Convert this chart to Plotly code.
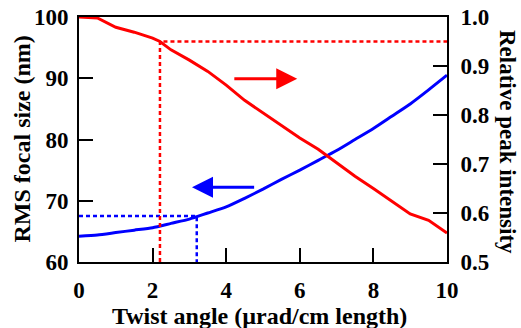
import plotly.graph_objects as go

# Twist angle (µrad/cm length)
twist_red = [0, 0.5, 1, 1.5, 2, 2.2, 2.5, 3, 3.5, 4, 4.5, 5, 5.5, 6, 6.5, 7, 7.5, 8, 8.5, 9, 9.5, 10]
peak_intensity = [1.0, 0.998, 0.979, 0.969, 0.957, 0.950, 0.933, 0.912, 0.889, 0.861, 0.830,
                  0.804, 0.779, 0.753, 0.730, 0.703, 0.675, 0.650, 0.624, 0.598, 0.585, 0.559]

twist_blue = [0, 0.5, 1, 1.5, 2, 2.5, 3, 3.5, 4, 4.5, 5, 5.5, 6, 6.5, 7, 7.5, 8, 8.5, 9, 9.5, 10]
rms_focal = [64.2, 64.4, 64.8, 65.2, 65.6, 66.3, 67.0, 68.0, 69.0, 70.4, 71.9,
             73.5, 75.0, 76.6, 78.2, 80.0, 81.8, 83.8, 85.8, 88.1, 90.5]

# reference (dotted) guide lines
red_guide_x = [2.2, 2.2, 10]
red_guide_y = [0.5, 0.95, 0.95]
blue_guide_x = [0, 3.2, 3.2]
blue_guide_y = [67.5, 67.5, 60]

x_title = "Twist angle (µrad/cm length)"
y_title = "RMS focal size (nm)"
y2_title = "Relative peak intensity"

RED = "#ff0000"
BLUE = "#0000ff"
FONT = "Liberation Serif"

fig = go.Figure()
fig.add_trace(go.Scatter(x=blue_guide_x, y=blue_guide_y, mode="lines",
                         line=dict(color=BLUE, width=2.5, dash="4px,3px"),
                         showlegend=False, hoverinfo="skip"))
fig.add_trace(go.Scatter(x=red_guide_x, y=red_guide_y, mode="lines", yaxis="y2",
                         line=dict(color=RED, width=2.5, dash="4px,3px"),
                         showlegend=False, hoverinfo="skip"))
fig.add_trace(go.Scatter(x=twist_blue, y=rms_focal, mode="lines",
                         line=dict(color=BLUE, width=3, shape="spline", smoothing=0.6),
                         showlegend=False))
fig.add_trace(go.Scatter(x=twist_red, y=peak_intensity, mode="lines", yaxis="y2",
                         line=dict(color=RED, width=3),
                         showlegend=False))

# direction arrows
fig.add_annotation(x=5.93, y=89.9, ax=4.18, ay=89.9, xref="x", yref="y", axref="x", ayref="y",
                   text="", showarrow=True, arrowhead=2, arrowsize=1.4, arrowwidth=3, arrowcolor=RED)
fig.add_annotation(x=3.07, y=72.2, ax=4.8, ay=72.2, xref="x", yref="y", axref="x", ayref="y",
                   text="", showarrow=True, arrowhead=2, arrowsize=1.4, arrowwidth=3, arrowcolor=BLUE)

tickfont = dict(family=FONT, size=23, color="black", weight="bold")
titlefont = dict(family=FONT, size=24, color="black", weight="bold")
title2font = dict(family=FONT, size=23, color="black", weight="bold")

# axis titles as annotations for exact placement
fig.add_annotation(text=y_title, xref="paper", yref="paper", x=0, y=0.5, xshift=-58,
                   textangle=-90, showarrow=False, font=titlefont, xanchor="center", yanchor="middle")
fig.add_annotation(text=y2_title, xref="paper", yref="paper", x=1, y=0.49, xshift=60,
                   textangle=90, showarrow=False, font=title2font, xanchor="center", yanchor="middle")
fig.add_annotation(text=x_title, xref="paper", yref="paper", x=0.49, y=0, yshift=-54,
                   showarrow=False, font=titlefont, xanchor="center", yanchor="middle")

axis_common = dict(ticks="inside", ticklen=14, tickwidth=2, tickcolor="black",
                   showline=True, linecolor="black", linewidth=2, showgrid=False,
                   zeroline=False, tickfont=tickfont, automargin=False,
                   ticklabeloverflow="allow")

fig.update_layout(
    width=521, height=328,
    margin=dict(l=79, r=74, t=17, b=66),
    paper_bgcolor="white", plot_bgcolor="white",
    font=dict(family=FONT, color="black"),
    hovermode=False,
    xaxis=dict(range=[0, 10], tickvals=[0, 2, 4, 6, 8, 10], mirror=True,
               ticklabelstandoff=6, **axis_common),
    yaxis=dict(range=[60, 100], tickvals=[60, 70, 80, 90, 100],
               ticklabelstandoff=4, **axis_common),
    yaxis2=dict(range=[0.5, 1.0], tickvals=[0.5, 0.6, 0.7, 0.8, 0.9, 1.0], tickformat=".1f",
                overlaying="y", side="right", ticklabelstandoff=7, **axis_common),
)

# remove the browser's default 8px page margin so the figure fills the window exactly
fig.write_html("out.html", config={"displayModeBar": False},
               post_script="document.body.style.margin='0';")
